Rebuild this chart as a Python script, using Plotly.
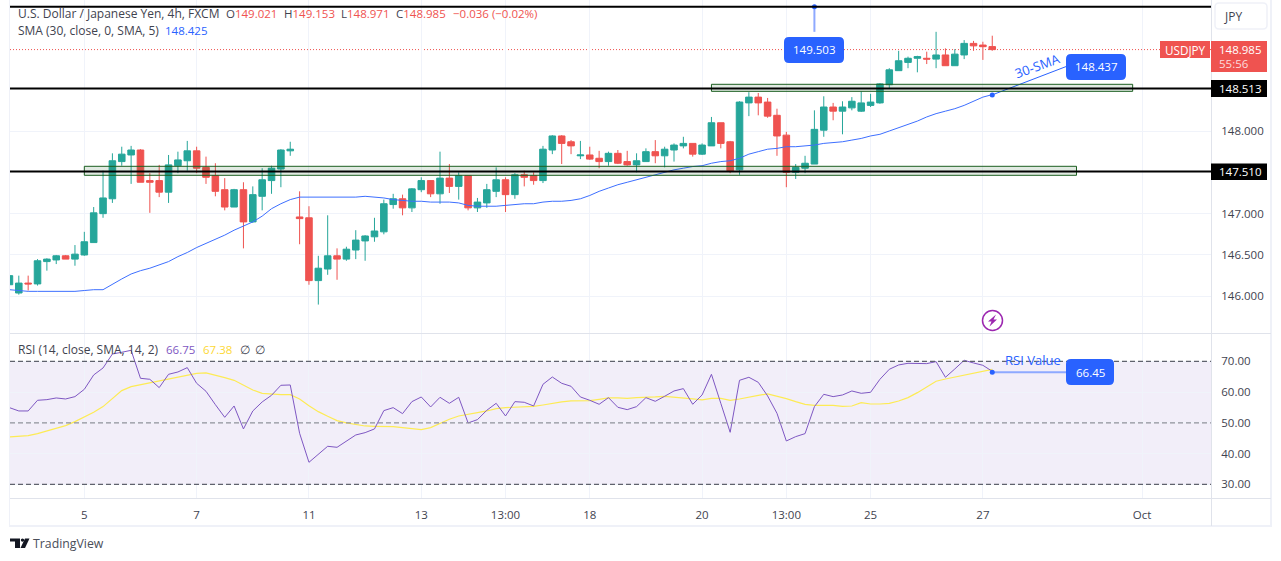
import plotly.graph_objects as go

# 4h bars, counted from the bar labelled "5"
bars = list(range(-8, 98))

opens = [
    146.14, 146.04, 146.16, 146.15, 146.42, 146.44, 146.49, 146.45, 146.50, 146.65, 147.00, 147.18, 147.63, 147.71,
    147.77, 147.40, 147.40, 147.26, 147.58, 147.64, 147.76, 147.56, 147.46, 147.29, 147.08, 147.29, 146.90, 147.21,
    147.40, 147.54, 147.76, 146.96, 146.95, 146.19, 146.33, 146.49, 146.45, 146.56, 146.67, 146.72, 146.78, 147.11,
    147.18, 147.07, 147.29, 147.40, 147.24, 147.43, 147.33, 147.46, 147.07, 147.13, 147.27, 147.41, 147.23, 147.47,
    147.46, 147.40, 147.77, 147.94, 147.87, 147.70, 147.71, 147.67, 147.63, 147.73, 147.63, 147.59, 147.63, 147.75,
    147.70, 147.77, 147.82, 147.85, 147.72, 147.82, 148.10, 147.87, 147.53, 148.34, 148.41, 148.35, 148.19, 147.95,
    147.50, 147.55, 147.60, 148.01, 148.29, 148.24, 148.28, 148.24, 148.31, 148.34, 148.56, 148.73, 148.83, 148.88,
    148.88, 148.87, 148.92, 148.79, 148.92, 149.06, 149.04, 149.021,
]
highs = [
    146.25, 146.25, 146.25, 146.45, 146.46, 146.50, 146.50, 146.62, 146.78, 147.08, 147.52, 147.73, 147.81, 147.82,
    147.78, 147.49, 147.59, 147.71, 147.75, 147.88, 147.81, 147.69, 147.61, 147.43, 147.30, 147.38, 147.33, 147.55,
    147.58, 147.78, 147.87, 147.27, 147.09, 146.49, 146.98, 146.58, 146.60, 146.80, 146.74, 146.95, 147.17, 147.24,
    147.23, 147.31, 147.44, 147.40, 147.75, 147.60, 147.50, 147.46, 147.19, 147.36, 147.56, 147.44, 147.49, 147.52,
    147.50, 147.82, 147.95, 147.95, 147.89, 147.88, 147.81, 147.76, 147.75, 147.77, 147.76, 147.73, 147.79, 147.89,
    147.81, 147.85, 147.93, 147.85, 147.85, 148.17, 148.10, 147.88, 148.36, 148.47, 148.46, 148.40, 148.27, 147.99,
    147.60, 147.70, 148.25, 148.42, 148.34, 148.36, 148.41, 148.48, 148.45, 148.58, 148.76, 148.97, 148.90, 148.91,
    148.96, 149.20, 149.00, 148.99, 149.10, 149.09, 149.08, 149.153,
]
lows = [
    146.12, 146.02, 146.07, 146.13, 146.31, 146.39, 146.45, 146.37, 146.49, 146.65, 146.95, 147.13, 147.58, 147.36,
    147.38, 147.01, 147.20, 147.13, 147.49, 147.52, 147.49, 147.36, 147.21, 147.04, 147.08, 146.58, 146.89, 147.04,
    147.24, 147.32, 147.70, 146.63, 146.14, 145.90, 146.26, 146.20, 146.43, 146.45, 146.43, 146.66, 146.75, 147.06,
    146.98, 147.02, 147.26, 147.20, 147.12, 147.25, 147.17, 147.04, 147.02, 147.07, 147.20, 147.02, 147.18, 147.33,
    147.35, 147.37, 147.72, 147.60, 147.72, 147.66, 147.65, 147.55, 147.58, 147.60, 147.58, 147.50, 147.63, 147.61,
    147.56, 147.63, 147.79, 147.69, 147.71, 147.82, 147.79, 147.49, 147.47, 148.18, 148.19, 148.16, 147.70, 147.32,
    147.42, 147.49, 147.60, 147.93, 148.13, 147.96, 148.25, 148.23, 148.29, 148.33, 148.52, 148.73, 148.76, 148.71,
    148.81, 148.76, 148.79, 148.79, 148.87, 148.97, 148.86, 148.971,
]
closes = [
    146.25, 146.16, 146.15, 146.43, 146.45, 146.49, 146.45, 146.51, 146.66, 147.01, 147.19, 147.64, 147.72, 147.77,
    147.38, 147.38, 147.26, 147.59, 147.65, 147.76, 147.55, 147.44, 147.27, 147.08, 147.29, 146.90, 147.23, 147.41,
    147.55, 147.77, 147.78, 146.94, 146.19, 146.34, 146.49, 146.45, 146.57, 146.68, 146.73, 146.79, 147.12, 147.18,
    147.07, 147.30, 147.40, 147.24, 147.43, 147.33, 147.46, 147.07, 147.14, 147.29, 147.41, 147.23, 147.47, 147.44,
    147.40, 147.78, 147.94, 147.85, 147.82, 147.71, 147.66, 147.63, 147.73, 147.61, 147.59, 147.64, 147.75, 147.70,
    147.78, 147.83, 147.85, 147.72, 147.83, 148.10, 147.85, 147.52, 148.35, 148.41, 148.34, 148.18, 147.94, 147.50,
    147.56, 147.61, 148.02, 148.29, 148.24, 148.29, 148.36, 148.34, 148.35, 148.57, 148.74, 148.85, 148.88, 148.90,
    148.87, 148.92, 148.79, 148.93, 149.06, 149.03, 149.02, 148.985,
]
sma = [
    146.08, 146.07, 146.06, 146.06, 146.06, 146.06, 146.06, 146.06, 146.07, 146.08, 146.08, 146.14, 146.21, 146.27,
    146.31, 146.34, 146.38, 146.42, 146.48, 146.53, 146.59, 146.64, 146.69, 146.74, 146.80, 146.85, 146.90, 146.97,
    147.06, 147.12, 147.17, 147.20, 147.20, 147.20, 147.20, 147.20, 147.20, 147.20, 147.21, 147.20, 147.19, 147.17,
    147.16, 147.15, 147.15, 147.14, 147.14, 147.14, 147.13, 147.10, 147.09, 147.09, 147.09, 147.10, 147.11, 147.12,
    147.12, 147.14, 147.15, 147.15, 147.16, 147.18, 147.22, 147.27, 147.31, 147.35, 147.38, 147.41, 147.44, 147.47,
    147.50, 147.53, 147.55, 147.57, 147.58, 147.61, 147.63, 147.64, 147.67, 147.72, 147.75, 147.78, 147.79, 147.81,
    147.81, 147.82, 147.83, 147.85, 147.86, 147.87, 147.89, 147.91, 147.94, 147.96, 148.00, 148.04, 148.08, 148.12,
    148.17, 148.21, 148.24, 148.27, 148.31, 148.36, 148.41, 148.44,
]
rsi = [
    54.93, 53.85, 53.85, 57.32, 57.53, 58.08, 57.75, 58.51, 60.89, 65.56, 67.83, 72.38, 72.93, 73.58,
    64.47, 64.15, 61.44, 65.77, 66.53, 67.94, 62.85, 60.24, 55.91, 51.79, 55.47, 48.00, 53.85, 56.78,
    58.94, 62.20, 62.30, 46.59, 37.15, 39.76, 42.36, 42.03, 43.98, 46.04, 46.80, 48.00, 53.96, 54.93,
    52.98, 56.88, 58.40, 55.15, 58.29, 56.34, 58.29, 49.95, 51.03, 54.07, 56.34, 52.22, 56.88, 56.67,
    55.47, 62.52, 64.90, 62.85, 61.87, 58.40, 57.32, 56.02, 58.18, 55.04, 54.28, 55.26, 58.18, 56.99,
    58.62, 60.35, 61.11, 56.02, 59.05, 65.77, 56.34, 46.91, 63.82, 64.80, 63.17, 58.73, 53.09, 44.09,
    45.50, 46.48, 55.26, 59.27, 58.51, 59.05, 60.35, 59.59, 59.92, 64.15, 67.40, 68.81, 69.35, 69.35,
    69.24, 69.89, 64.80, 67.51, 70.33, 69.46, 68.70, 66.75,
]
rsi_ma = [
    45.39, 45.61, 45.83, 46.48, 47.34, 48.10, 49.08, 50.38, 51.79, 53.41, 55.26, 57.97, 60.46, 61.76,
    62.41, 63.06, 63.60, 64.15, 64.80, 65.56, 66.10, 66.21, 65.56, 64.69, 63.82, 62.20, 60.68, 59.59,
    59.27, 59.16, 59.16, 57.75, 55.58, 53.63, 52.11, 50.70, 49.95, 49.40, 48.97, 48.86, 48.86, 48.75,
    48.43, 47.99, 47.78, 48.43, 49.84, 51.14, 52.22, 52.87, 53.31, 53.85, 54.61, 54.93, 55.04, 55.15,
    55.37, 55.80, 56.34, 56.78, 57.10, 57.21, 57.21, 57.64, 58.08, 58.08, 57.97, 58.18, 58.18, 58.40,
    58.62, 58.40, 58.18, 57.75, 57.43, 57.97, 57.97, 57.32, 57.75, 58.40, 58.94, 59.38, 58.73, 57.86,
    56.88, 56.02, 55.69, 55.80, 55.69, 55.37, 55.47, 56.56, 56.12, 56.12, 56.34, 57.10, 58.18, 59.81,
    61.54, 63.50, 64.25, 64.90, 65.66, 66.31, 66.96, 67.38,
]

time_tick_bars = [0, 12, 24, 36, 45, 54, 66, 75, 84, 96, 113]
time_tick_labels = ["5", "7", "11", "13", "13:00", "18", "20", "13:00", "25", "27", "Oct"]
price_ticks = [146.0, 146.5, 147.0, 148.0]
rsi_ticks = [30, 40, 50, 60, 70]

last_close = 148.985
support = 147.510
resistance = 148.513
top_level = 149.503
sma_callout = 148.437
rsi_callout = 66.45

FONT = "Open Sans, sans-serif"
NUM_SIZE = 11.5
TEXT = "#3f434f"
BLUE = "#2962ff"
LIGHT_BLUE = "#8ea9ff"
GREEN = "#26a69a"
RED = "#ef5350"
RULE = "#e0e3eb"
GRID = "#f0f3fa"
WIDTH = 1281
HEIGHT = 561


def px(x):
    return x / WIDTH


def py(y):
    return 1 - y / HEIGHT


def rounded_box(x0, y0, x1, y1, r):
    a, b, c, d = px(x0), py(y0), px(x1), py(y1)
    rx, ry = r / WIDTH, r / HEIGHT
    return (f"M{a + rx},{b} L{c - rx},{b} Q{c},{b} {c},{b - ry} L{c},{d + ry} Q{c},{d} {c - rx},{d} "
            f"L{a + rx},{d} Q{a},{d} {a},{d + ry} L{a},{b - ry} Q{a},{b} {a + rx},{b} Z")


def polygon(points):
    return "M" + " L".join(f"{px(x)},{py(y)}" for x, y in points) + " Z"


def label(fig, x, y, text, color=TEXT, size=12, anchor="left", angle=0):
    # annotations carry 2px of padding on their left edge
    shift = 2 if anchor == "left" else 0
    fig.add_annotation(xref="paper", yref="paper", x=px(x - shift), y=py(y), text=text, showarrow=False,
                       xanchor=anchor, yanchor="middle", textangle=angle,
                       font=dict(family=FONT, size=size, color=color))


def paper_rect(fig, x0, y0, x1, y1, fill, line=None):
    fig.add_shape(type="rect", xref="paper", yref="paper", x0=px(x0), x1=px(x1), y0=py(y0), y1=py(y1),
                  fillcolor=fill, line=dict(color=line or fill, width=1 if line else 0), layer="above")


def main():
    fig = go.Figure()

    fig.add_trace(go.Candlestick(
        x=bars, open=opens, high=highs, low=lows, close=closes, whiskerwidth=0,
        increasing=dict(line=dict(color=GREEN, width=1), fillcolor=GREEN),
        decreasing=dict(line=dict(color=RED, width=1), fillcolor=RED),
        xaxis="x", yaxis="y", showlegend=False,
    ))
    fig.add_trace(go.Scatter(x=bars, y=sma, mode="lines", line=dict(color="#3d6fff", width=1),
                             xaxis="x", yaxis="y", showlegend=False))
    fig.add_trace(go.Scatter(x=bars, y=rsi_ma, mode="lines", line=dict(color="#fdeb55", width=1.2),
                             xaxis="x2", yaxis="y2", showlegend=False))
    fig.add_trace(go.Scatter(x=bars, y=rsi, mode="lines", line=dict(color="#7e57c2", width=1),
                             xaxis="x2", yaxis="y2", showlegend=False))

    # callout connectors and their dots
    fig.add_trace(go.Scatter(x=[78, 78], y=[top_level, 149.2], mode="lines", line=dict(color=LIGHT_BLUE, width=2),
                             xaxis="x", yaxis="y", showlegend=False))
    fig.add_trace(go.Scatter(x=[97, 104.9], y=[sma_callout, 148.78], mode="lines", line=dict(color=BLUE, width=1),
                             xaxis="x", yaxis="y", showlegend=False))
    fig.add_trace(go.Scatter(x=[97, 104.9], y=[rsi_callout, rsi_callout], mode="lines",
                             line=dict(color=LIGHT_BLUE, width=2), xaxis="x2", yaxis="y2", showlegend=False))
    fig.add_trace(go.Scatter(x=[78, 97], y=[top_level, sma_callout], mode="markers",
                             marker=dict(color=BLUE, size=5), xaxis="x", yaxis="y", showlegend=False))
    fig.add_trace(go.Scatter(x=[97], y=[rsi_callout], mode="markers",
                             marker=dict(color=BLUE, size=5), xaxis="x2", yaxis="y2", showlegend=False))

    # RSI band and its dashed levels
    fig.add_shape(type="rect", xref="x2 domain", yref="y2", x0=0, x1=1, y0=30, y1=70,
                  fillcolor="rgba(126,87,194,0.1)", line=dict(width=0), layer="below")
    for level, color in [(70, "#5f626d"), (50, "#8f919b"), (30, "#5f626d")]:
        fig.add_shape(type="line", xref="x2 domain", yref="y2", x0=0, x1=1, y0=level, y1=level,
                      line=dict(color=color, width=1.3, dash="5px,3px"), layer="above")

    # hand drawn levels and zones
    fig.add_shape(type="line", xref="x domain", yref="y", x0=0, x1=1, y0=last_close, y1=last_close,
                  line=dict(color=RED, width=1, dash="1px,2px"), layer="below")
    for zone in [(0, 106, 147.464, 147.573), (67, 112, 148.48, 148.565)]:
        fig.add_shape(type="rect", xref="x", yref="y", x0=zone[0], x1=zone[1], y0=zone[2], y1=zone[3],
                      fillcolor="rgba(27,94,32,0.13)", line=dict(color="#1b5e20", width=1), layer="above")
    for level in [top_level, resistance, support]:
        fig.add_shape(type="line", xref="x domain", yref="y", x0=0, x1=1, y0=level, y1=level,
                      line=dict(color="#000000", width=2), layer="above")

    # frame of the chart
    paper_rect(fig, 9, 0, 10, 526, "#eff1f8")
    paper_rect(fig, 9, 525, 1271, 527, "#eff1f8")
    paper_rect(fig, 1270, 0, 1272, 527, "#eff1f8")
    for x0, y0, x1, y1 in [(10, 333.5, 1271, 333.5), (10, 498.5, 1271, 498.5), (1211.5, 0, 1211.5, 526)]:
        fig.add_shape(type="line", xref="paper", yref="paper", x0=px(x0), x1=px(x1), y0=py(y0), y1=py(y1),
                      line=dict(color=RULE, width=1), layer="above")

    # price scale tags
    paper_rect(fig, 1160, 41, 1210, 58, RED)
    paper_rect(fig, 1211, 41, 1267, 72, RED)
    paper_rect(fig, 1211, 80, 1267, 97, "#000000")
    paper_rect(fig, 1211, 163.5, 1267, 180, "#000000")
    label(fig, 1165, 49.5, "USDJPY", "#ffffff", size=11.7)
    label(fig, 1219, 49.5, f"{last_close:.3f}", "#ffffff", size=NUM_SIZE)
    label(fig, 1219, 64, "55:56", "#fbdcdc", size=NUM_SIZE)
    label(fig, 1219, 88.5, f"{resistance:.3f}", "#ffffff", size=NUM_SIZE)
    label(fig, 1219, 171.5, f"{support:.3f}", "#ffffff", size=NUM_SIZE)

    fig.add_shape(type="path", xref="paper", yref="paper", path=rounded_box(1215, 3, 1267, 29, 4),
                  fillcolor="#ffffff", line=dict(color="#eff1f8", width=1.5), layer="above")
    label(fig, 1224, 16, "JPY")

    # blue callouts
    for box in [(784, 37, 844, 63), (1066, 54, 1126, 80), (1066, 359, 1114, 385)]:
        fig.add_shape(type="path", xref="paper", yref="paper", path=rounded_box(*box, 5),
                      fillcolor=BLUE, line=dict(width=0), layer="above")
    label(fig, 814, 50, f"{top_level:.3f}", "#ffffff", size=NUM_SIZE, anchor="center")
    label(fig, 1096, 67, f"{sma_callout:.3f}", "#ffffff", size=NUM_SIZE, anchor="center")
    label(fig, 1090, 372, f"{rsi_callout:.2f}", "#ffffff", size=NUM_SIZE, anchor="center")
    label(fig, 1037, 66, "30-SMA", BLUE, size=13, anchor="center", angle=-20)
    label(fig, 1033, 360, "RSI Value", BLUE, size=13, anchor="center")

    # legends
    label(fig, 18, 14, "U.S. Dollar / Japanese Yen, 4h, FXCM")
    for x, letter, value in [(226, "O", "149.021"), (284, "H", "149.153"), (341, "L", "148.971"), (396, "C", "148.985")]:
        label(fig, x, 14, f"{letter}<span style='color:{RED}'>{value}</span>", size=NUM_SIZE)
    label(fig, 453, 14, "−0.036 (−0.02%)", RED, size=NUM_SIZE)
    label(fig, 18, 30.5, "SMA (30, close, 0, SMA, 5)")
    label(fig, 165, 30.5, "148.425", BLUE, size=NUM_SIZE)
    label(fig, 18, 349, "RSI (14, close, SMA, 14, 2)")
    label(fig, 166, 349, "66.75", "#7e57c2", size=NUM_SIZE)
    label(fig, 203, 349, "67.38", "#fdd835", size=NUM_SIZE)
    label(fig, 240, 349, "∅", size=NUM_SIZE)
    label(fig, 255, 349, "∅", size=NUM_SIZE)

    # lightning badge
    fig.add_shape(type="circle", xref="paper", yref="paper", x0=px(982.5), x1=px(1002.5), y0=py(310.5), y1=py(330.5),
                  fillcolor="#ffffff", line=dict(color="#9c27b0", width=1.5), layer="above")
    fig.add_shape(type="path", xref="paper", yref="paper",
                  path=polygon([(996, 314.5), (988, 321.5), (991.5, 321.5), (989.5, 326.5), (997, 319.5), (993.5, 319.5)]),
                  fillcolor="#9c27b0", line=dict(width=0), layer="above")

    # TradingView mark
    for points in [[(10, 538.5), (20, 538.5), (20, 548), (15, 548), (15, 541.5), (10, 541.5)],
                   [(25, 538.5), (29.5, 538.5), (25, 548), (20.5, 548)]]:
        fig.add_shape(type="path", xref="paper", yref="paper", path=polygon(points),
                      fillcolor="#131722", line=dict(width=0), layer="above")
    fig.add_shape(type="circle", xref="paper", yref="paper", x0=px(20.8), x1=px(24.2), y0=py(538.4), y1=py(541.8),
                  fillcolor="#131722", line=dict(width=0), layer="above")
    label(fig, 33, 543.5, "TradingView", "#4a4e59", size=12.3)

    x_range = [-7.94, 120.37]
    x_dom = [px(10), px(1211)]
    tick_font = dict(family=FONT, size=NUM_SIZE, color=TEXT)
    fig.update_layout(
        width=WIDTH, height=HEIGHT, margin=dict(l=0, r=0, t=0, b=0), autosize=False,
        paper_bgcolor="#ffffff", plot_bgcolor="#ffffff", showlegend=False, hovermode=False,
        boxgap=0.3, boxgroupgap=0,
        font=dict(family=FONT, size=12, color=TEXT),
        xaxis=dict(domain=x_dom, range=x_range, anchor="y", rangeslider=dict(visible=False),
                   tickmode="array", tickvals=time_tick_bars, showticklabels=False, ticks="",
                   showgrid=True, gridcolor=GRID, zeroline=False),
        yaxis=dict(domain=[py(333.5), 1], range=[145.55, 149.585], anchor="x", side="right",
                   tickmode="array", tickvals=price_ticks, tickformat=".3f", ticks="outside", tickfont=tick_font,
                   ticklen=7, tickcolor="rgba(0,0,0,0)", showgrid=True, gridcolor=GRID, zeroline=False),
        xaxis2=dict(domain=x_dom, range=x_range, anchor="y2", tickfont=tick_font,
                    tickmode="array", tickvals=time_tick_bars, ticktext=time_tick_labels, ticks="outside",
                    ticklen=6, tickcolor="rgba(0,0,0,0)", showgrid=True, gridcolor=GRID, zeroline=False),
        yaxis2=dict(domain=[py(498.5), py(334)], range=[25.38, 78.88], anchor="x2", side="right",
                    tickmode="array", tickvals=rsi_ticks, tickformat=".2f", ticks="outside", tickfont=tick_font,
                    ticklen=7, tickcolor="rgba(0,0,0,0)", showgrid=True, gridcolor=GRID, zeroline=False),
    )
    fig.write_html("out.html", config=dict(displayModeBar=False), post_script="document.body.style.margin='0';")


if __name__ == '__main__':
    main()
